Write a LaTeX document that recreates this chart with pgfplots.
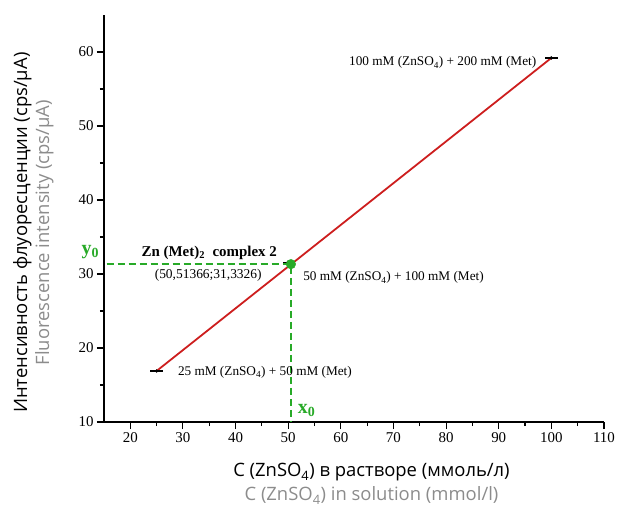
\documentclass[border=0pt]{standalone}
\usepackage{pgfplots}
\pgfplotsset{compat=1.18}
\usepackage{fontspec}
\setmainfont{Liberation Serif}
\newfontfamily\labelfont{Open Sans}
\definecolor{lred}{RGB}{205,30,30}
\definecolor{lgreen}{RGB}{40,170,40}
\definecolor{lgray}{RGB}{140,140,140}
\begin{document}
\begin{tikzpicture}
\useasboundingbox (-104bp,-88bp) rectangle (520bp,422bp);
\begin{axis}[
 scale only axis, width=500bp, height=407bp,
 xmin=15, xmax=110, ymin=10, ymax=65,
 axis lines=left, axis line style={-, line width=1.4bp},
 xtick={20,30,...,110}, ytick={10,20,...,60},
 minor xtick={25,35,...,105}, minor ytick={15,25,...,55},
 tick align=outside, tick style={black, line width=1.1bp},
 major tick length=7bp, minor tick length=4bp,
 tick label style={font=\fontsize{15}{17}\selectfont},
 /pgf/number format/assume math mode=true,
 clip=false,
 xlabel={C (ZnSO\textsubscript{4}) в растворе (ммоль/л)\\\textcolor{lgray}{C (ZnSO\textsubscript{4}) in solution (mmol/l)}},
 xlabel style={at={(axis description cs:0.535,0)}, anchor=north, yshift=-38bp, align=center, font=\labelfont\fontsize{18.5}{24}\selectfont},
 ylabel={Интенсивность флуоресценции (cps/µA)\\\textcolor{lgray}{Fluorescence intensity (cps/µA)}},
 ylabel style={at={(axis description cs:-0.094,0.465)}, anchor=south, align=center, font=\labelfont\fontsize{18.5}{22}\selectfont},
]
\addplot[lred, line width=1.8bp] coordinates {(25,16.9) (100,59.2)};
\addplot[lgreen, line width=1.8bp, dash pattern=on 7bp off 4bp] coordinates {(15.5,31.3326) (50.51366,31.3326) (50.51366,10)};
\addplot[black, only marks, mark=*, mark size=1.5bp,
  error bars/.cd, x dir=both, x explicit, error mark=none,
  error bar style={line width=1.2bp}]
  coordinates {(25,16.9) +- (1.2,0) (50,31.6) +- (1.0,0) (100,59.2) +- (1.2,0)};
\addplot[lgreen, only marks, mark=*, mark size=4.8bp] coordinates {(50.51366,31.3326)};
\node[anchor=east, font=\fontsize{13.3}{15}\selectfont] at (axis cs:97.8,58.55) {100 mM (ZnSO\textsubscript{4}) + 200 mM (Met)};
\node[anchor=west, font=\fontsize{13.3}{15}\selectfont] at (axis cs:52.2,29.5) {50 mM (ZnSO\textsubscript{4}) + 100 mM (Met)};
\node[anchor=west, font=\fontsize{13.3}{15}\selectfont] at (axis cs:28.4,16.75) {25 mM (ZnSO\textsubscript{4}) + 50 mM (Met)};
\node[font=\bfseries\fontsize{15}{17}\selectfont] at (axis cs:35.0,32.9) {Zn (Met)\textsubscript{2}\ \ complex 2};
\node[font=\fontsize{13.5}{15}\selectfont] at (axis cs:34.8,29.8) {(50,51366;31,3326)};
\node[text=lgreen, font=\bfseries\fontsize{20}{22}\selectfont] at (axis cs:12.4,33) {y\textsubscript{0}};
\node[text=lgreen, font=\bfseries\fontsize{20}{22}\selectfont] at (axis cs:53.5,11.5) {x\textsubscript{0}};
\end{axis}
\end{tikzpicture}
\end{document}
